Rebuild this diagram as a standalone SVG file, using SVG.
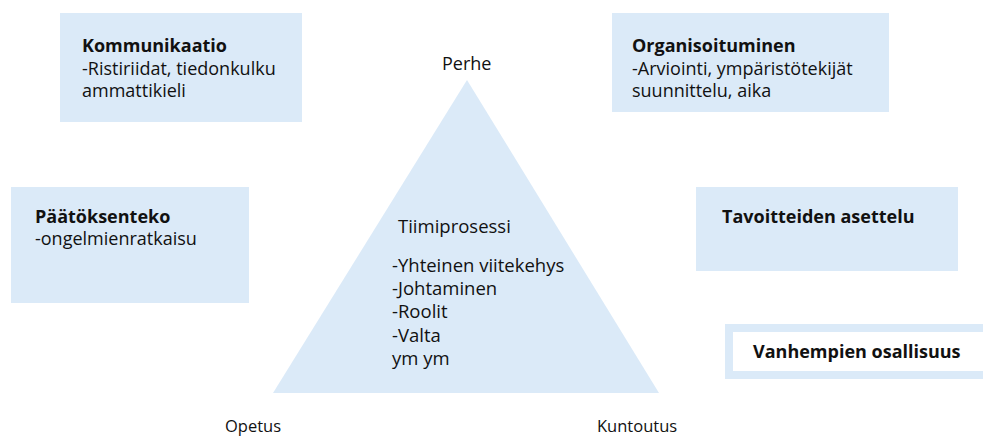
<svg xmlns="http://www.w3.org/2000/svg" width="983" height="436" viewBox="0 0 983 436">
<style>
.box{fill:#dbeaf8}
.t{font-family:"Open Sans","Liberation Sans",sans-serif;font-size:18px;fill:#111}
.b{font-weight:bold}
.s{font-size:16.5px}
.tri{font-family:"Open Sans","Liberation Sans",sans-serif;font-size:18.5px;fill:#111}
</style>
<rect width="983" height="436" fill="#fff"/>
<g id="triangle">
<polygon class="box" points="467,80 273,393 659,393"/>
<text class="tri" x="398" y="233">Tiimiprosessi</text>
<text class="tri" x="392" y="272">-Yhteinen viitekehys</text>
<text class="tri" x="392" y="295">-Johtaminen</text>
<text class="tri" x="392" y="318">-Roolit</text>
<text class="tri" x="392" y="342">-Valta</text>
<text class="tri" x="392" y="365">ym ym</text>
</g>
<g id="perhe"><text class="t" x="442" y="70">Perhe</text></g>
<g id="opetus"><text class="t s" x="225" y="432">Opetus</text></g>
<g id="kuntoutus"><text class="t s" x="597" y="432">Kuntoutus</text></g>
<g id="kommunikaatio">
<rect class="box" x="60" y="13" width="242" height="109"/>
<text class="t b" x="82" y="52">Kommunikaatio</text>
<text class="t" x="82" y="75">-Ristiriidat, tiedonkulku</text>
<text class="t" x="82" y="97">ammattikieli</text>
</g>
<g id="organisoituminen">
<rect class="box" x="612" y="13" width="277" height="99"/>
<text class="t b" x="632" y="52">Organisoituminen</text>
<text class="t" x="632" y="75">-Arviointi, ympäristötekijät</text>
<text class="t" x="632" y="97">suunnittelu, aika</text>
</g>
<g id="paatoksenteko">
<rect class="box" x="11" y="187" width="238" height="116"/>
<text class="t b" x="35" y="223">Päätöksenteko</text>
<text class="t" x="35" y="245">-ongelmienratkaisu</text>
</g>
<g id="tavoitteiden">
<rect class="box" x="696" y="187" width="262" height="84"/>
<text class="t b" x="722" y="223">Tavoitteiden asettelu</text>
</g>
<g id="vanhempien">
<rect x="729" y="328" width="264" height="47" fill="#fff" stroke="#dbeaf8" stroke-width="8"/>
<text class="t b" x="753" y="358">Vanhempien osallisuus</text>
</g>
</svg>
